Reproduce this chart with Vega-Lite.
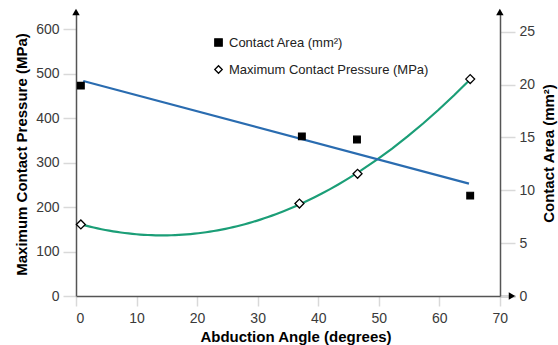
{
  "$schema": "https://vega.github.io/schema/vega-lite/v6.json",
  "width": 439,
  "height": 284,
  "autosize": "none",
  "padding": {"left": 76, "top": 12, "right": 43, "bottom": 49},
  "background": "white",
  "config": {
    "view": {"stroke": null},
    "font": "Liberation Sans",
    "axis": {
      "grid": false,
      "domainColor": "#555555",
      "domainWidth": 1.5,
      "tickColor": "#d9d9d9",
      "tickWidth": 1.5,
      "labelFont": "Liberation Sans",
      "labelFontSize": 14,
      "labelColor": "#3a3a3a",
      "titleFont": "Liberation Sans",
      "titleFontSize": 15,
      "titleFontWeight": "bold",
      "titleColor": "#000000"
    },
    "legend": {
      "labelFont": "Liberation Sans",
      "labelFontSize": 13,
      "labelColor": "#222222",
      "labelLimit": 400
    }
  },
  "datasets": {
    "pressure": [
      {"angle": 0.8, "pressure": 161, "series": "Maximum Contact Pressure (MPa)"},
      {"angle": 36.9, "pressure": 208, "series": "Maximum Contact Pressure (MPa)"},
      {"angle": 46.5, "pressure": 275, "series": "Maximum Contact Pressure (MPa)"},
      {"angle": 65.1, "pressure": 488, "series": "Maximum Contact Pressure (MPa)"}
    ],
    "area": [
      {"angle": 0.8, "area": 19.9, "series": "Contact Area (mm²)"},
      {"angle": 37.3, "area": 15.1, "series": "Contact Area (mm²)"},
      {"angle": 46.4, "area": 14.8, "series": "Contact Area (mm²)"},
      {"angle": 65.1, "area": 9.5, "series": "Contact Area (mm²)"}
    ]
  },
  "layer": [
    {
      "layer": [
        {
          "data": {"name": "pressure"},
          "transform": [
            {"regression": "pressure", "on": "angle", "method": "poly", "order": 2, "extent": [1, 65]}
          ],
          "mark": {"type": "line", "color": "#1b9e77", "strokeWidth": 2.2},
          "encoding": {
            "x": {
              "field": "angle", "type": "quantitative",
              "scale": {"domain": [0, 72.5], "nice": false},
              "axis": {
                "values": [0, 10, 20, 30, 40, 50, 60, 70],
                "title": "Abduction Angle (degrees)",
                "tickSize": 10,
                "labelPadding": 5,
                "titlePadding": 4
              }
            },
            "y": {
              "field": "pressure", "type": "quantitative",
              "scale": {"domain": [0, 639], "nice": false},
              "axis": {
                "orient": "left",
                "values": [0, 100, 200, 300, 400, 500, 600],
                "title": "Maximum Contact Pressure (MPa)",
                "tickSize": 13,
                "labelPadding": 4,
                "titlePadding": 6
              }
            }
          }
        },
        {
          "data": {"name": "pressure"},
          "mark": {"type": "point", "filled": true, "strokeWidth": 1.3, "size": 80, "opacity": 1},
          "encoding": {
            "x": {"field": "angle", "type": "quantitative"},
            "y": {"field": "pressure", "type": "quantitative"},
            "shape": {
              "field": "series", "type": "nominal",
              "scale": {"domain": ["Contact Area (mm²)", "Maximum Contact Pressure (MPa)"], "range": ["square", "diamond"]},
              "legend": {
                "title": null, "orient": "none", "legendX": 136, "legendY": 24,
                "rowPadding": 13, "labelOffset": 4, "padding": 0,
                "symbolStrokeWidth": 1.3, "symbolSize": 55
              }
            },
            "fill": {
              "field": "series", "type": "nominal",
              "scale": {"domain": ["Contact Area (mm²)", "Maximum Contact Pressure (MPa)"], "range": ["#000000", "#ffffff"]},
              "legend": {
                "title": null, "orient": "none", "legendX": 136, "legendY": 24,
                "rowPadding": 13, "labelOffset": 4, "padding": 0,
                "symbolStrokeWidth": 1.3, "symbolSize": 55
              }
            },
            "stroke": {
              "field": "series", "type": "nominal",
              "scale": {"domain": ["Contact Area (mm²)", "Maximum Contact Pressure (MPa)"], "range": ["#000000", "#000000"]},
              "legend": {
                "title": null, "orient": "none", "legendX": 136, "legendY": 24,
                "rowPadding": 13, "labelOffset": 4, "padding": 0,
                "symbolStrokeWidth": 1.3, "symbolSize": 55
              }
            }
          }
        },
        {
          "data": {"values": [{"angle": 0, "pressure": 639}]},
          "mark": {"type": "point", "shape": "triangle-up", "filled": true, "color": "#000000", "size": 55, "opacity": 1},
          "encoding": {
            "x": {"field": "angle", "type": "quantitative"},
            "y": {"field": "pressure", "type": "quantitative"}
          }
        },
        {
          "data": {"values": [{"angle": 72.0, "pressure": 0}]},
          "mark": {"type": "point", "shape": "triangle-right", "filled": true, "color": "#000000", "size": 55, "opacity": 1},
          "encoding": {
            "x": {"field": "angle", "type": "quantitative"},
            "y": {"field": "pressure", "type": "quantitative"}
          }
        }
      ]
    },
    {
      "layer": [
        {
          "data": {"name": "area"},
          "transform": [
            {"regression": "area", "on": "angle", "method": "linear", "extent": [1.2, 64.9]}
          ],
          "mark": {"type": "line", "color": "#2a6cb0", "strokeWidth": 2.2},
          "encoding": {
            "x": {"field": "angle", "type": "quantitative"},
            "y": {
              "field": "area", "type": "quantitative",
              "scale": {"domain": [0, 26.87], "nice": false},
              "axis": {
                "orient": "right",
                "offset": -15,
                "values": [0, 5, 10, 15, 20, 25],
                "title": "Contact Area (mm²)",
                "titleAngle": 270,
                "titleX": 48,
                "titleY": 141,
                "titleAlign": "center",
                "titleBaseline": "middle",
                "tickSize": 15,
                "labelPadding": 4
              }
            }
          }
        },
        {
          "data": {"name": "area"},
          "mark": {"type": "point", "filled": true, "strokeWidth": 1.2, "size": 45, "opacity": 1},
          "encoding": {
            "x": {"field": "angle", "type": "quantitative"},
            "y": {"field": "area", "type": "quantitative"},
            "shape": {"field": "series", "type": "nominal"},
            "fill": {"field": "series", "type": "nominal"},
            "stroke": {"field": "series", "type": "nominal"}
          }
        },
        {
          "data": {"values": [{"angle": 70, "area": 26.87}]},
          "mark": {"type": "point", "shape": "triangle-up", "filled": true, "color": "#000000", "size": 55, "opacity": 1},
          "encoding": {
            "x": {"field": "angle", "type": "quantitative"},
            "y": {"field": "area", "type": "quantitative"}
          }
        }
      ]
    }
  ],
  "resolve": {"scale": {"y": "independent"}}
}
